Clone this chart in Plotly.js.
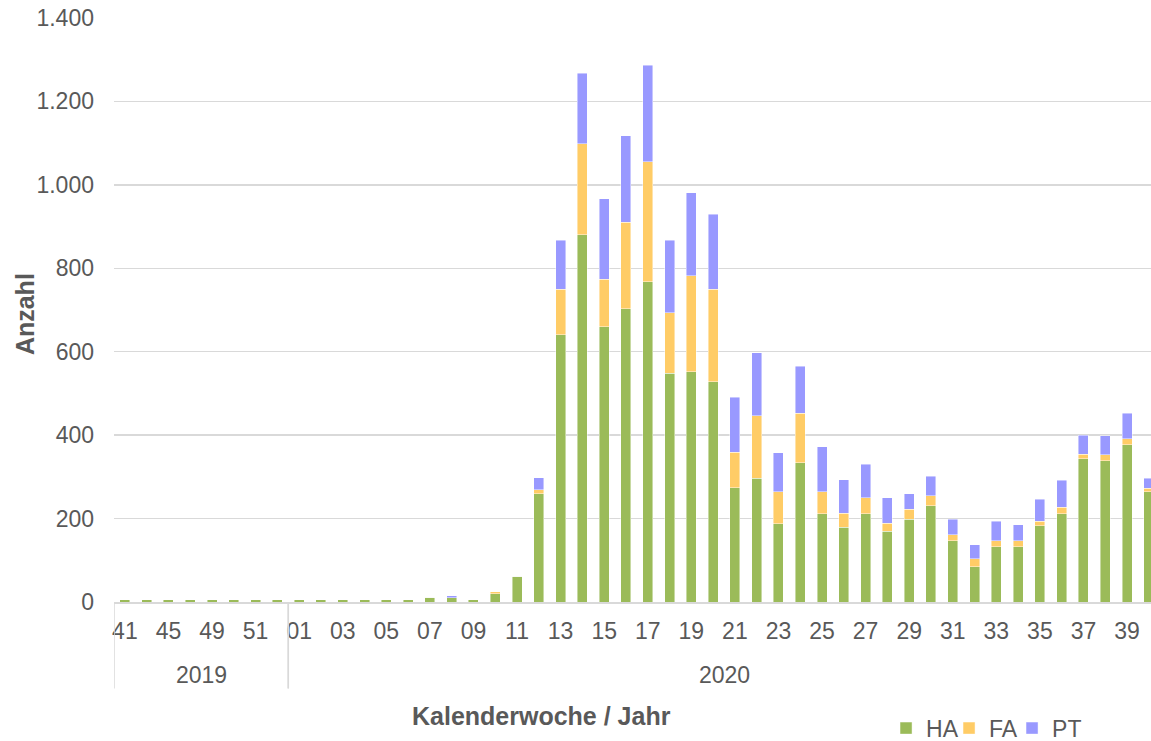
<!DOCTYPE html>
<html>
<head>
<meta charset="utf-8">
<script src="https://cdn.plot.ly/plotly-3.0.1.min.js"></script>
<style>
html,body{margin:0;padding:0;background:#ffffff;}
#chart{width:1151px;height:741px;}
</style>
</head>
<body>
<div id="chart"></div>
<script>
// ---- data ----
const years = ['2019', '2020'];
const weeks2019 = ['41','43','45','47','49','50','51','52'];
const weeks2020 = ['01','02','03','04','05','06','07','08','09','10',
                   '11','12','13','14','15','16','17','18','19','20',
                   '21','22','23','24','25','26','27','28','29','30',
                   '31','32','33','34','35','36','37','38','39','40'];
const seriesNames = ['HA', 'FA', 'PT'];
const HA = [6,6,6,6,6,6,6,6,
            6,6,6,6,6,6,11,10,6,20,
            62,260,641,881,660,703,768,548,552,528,
            274,297,188,334,212,179,212,170,198,231,
            147,85,132,132,183,212,344,339,377,264];
const FA = [0,0,0,0,0,0,0,0,
            0,0,0,0,0,0,0,0,0,5,
            0,9,109,218,114,207,288,145,230,222,
            85,150,76,118,52,34,38,19,24,24,
            14,19,15,15,11,15,10,14,14,9];
const PT = [0,0,0,0,0,0,0,0,
            0,0,0,0,0,0,0,5,0,0,
            0,29,117,169,193,208,231,174,199,179,
            132,151,94,113,108,80,80,61,38,47,
            37,33,47,38,52,65,46,46,61,24];
const colors = ['#9BBB59', '#FFCC66', '#9999FF'];

// ---- derived ----
const weekLabels = weeks2019.concat(weeks2020);
const groupSizes = [weeks2019.length, weeks2020.length];
const idx = weekLabels.map((_, i) => i);
const tickvals = idx.filter(i => i % 2 === 0);
const ticktext = tickvals.map(i => weekLabels[i]);

const values = [HA, FA, PT];
const traces = seriesNames.map((name, k) => ({
  type: 'bar',
  name: name,
  x: idx,
  y: values[k],
  legendwidth: k === seriesNames.length - 1 ? 40 : 18,
  marker: {color: colors[k], line: {color: 'rgba(255,255,255,0.55)', width: 0.8}},
  hoverinfo: 'skip'
}));

const txtColor = '#595959';
const gridColor = '#D9D9D9';

// year group separators and labels
const shapes = [];
const annotations = [];
let start = 0;
groupSizes.forEach((n, g) => {
  shapes.push({type: 'line', xref: 'x', yref: 'paper', x0: start - 0.5, x1: start - 0.5,
               y0: 0, y1: -0.148, line: {color: gridColor, width: 1.5}});
  shapes.push({type: 'line', xref: 'x', yref: 'paper', x0: start + n - 0.5, x1: start + n - 0.5,
               y0: 0, y1: -0.148, line: {color: gridColor, width: 1.5}});
  annotations.push({xref: 'x', yref: 'paper', x: start + (n - 1) / 2, y: -0.125,
                    text: years[g], showarrow: false, xanchor: 'center', yanchor: 'middle',
                    font: {size: 23, color: txtColor}});
  start += n;
});
annotations.push({xref: 'paper', yref: 'paper', x: 0.4127, y: -0.195,
                  text: '<b>Kalenderwoche / Jahr</b>', showarrow: false,
                  xanchor: 'center', yanchor: 'middle',
                  font: {size: 25, color: txtColor}});
annotations.push({xref: 'paper', yref: 'paper', x: -0.0858, y: 0.493,
                  text: '<b>Anzahl</b>', showarrow: false, textangle: -90,
                  xanchor: 'center', yanchor: 'middle',
                  font: {size: 25, color: txtColor}});

const layout = {
  width: 1151, height: 741,
  margin: {l: 114, r: 0, t: 18, b: 139, pad: 0, autoexpand: false},
  paper_bgcolor: '#ffffff', plot_bgcolor: '#ffffff',
  font: {family: '"Liberation Sans", Arial, sans-serif', color: txtColor},
  separators: ',.',
  barmode: 'stack',
  bargap: 0.54,
  showlegend: true,
  legend: {orientation: 'h', x: 0.7445, xanchor: 'left', y: -0.216, yanchor: 'middle',
           traceorder: 'normal', font: {size: 23, color: txtColor},
           bgcolor: 'rgba(0,0,0,0)', borderwidth: 0},
  xaxis: {
    type: 'linear', range: [-0.5, 47.1], fixedrange: true,
    tickmode: 'array', tickvals: tickvals, ticktext: ticktext,
    ticks: '', ticklabelstandoff: 8,
    tickfont: {size: 23, color: txtColor},
    showgrid: false, zeroline: false,
    showline: true, linecolor: gridColor, linewidth: 1.5
  },
  yaxis: {
    range: [0, 1400], dtick: 200, tickformat: ',d', fixedrange: true,
    ticks: '', ticklabelstandoff: 19,
    tickfont: {size: 23, color: txtColor},
    showgrid: true, gridcolor: gridColor, gridwidth: 1.4,
    zeroline: false, showline: false
  },
  shapes: shapes,
  annotations: annotations
};

Plotly.newPlot('chart', traces, layout, {displayModeBar: false, staticPlot: true});
</script>
</body>
</html>
